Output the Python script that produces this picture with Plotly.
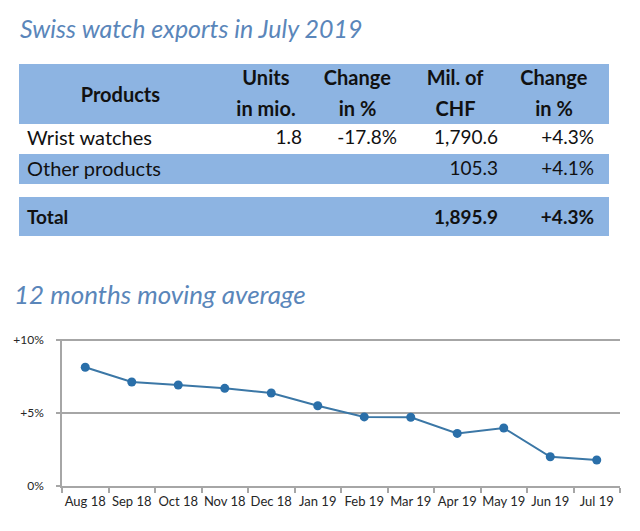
import plotly.graph_objects as go

# ---- Table data ----
header_line1 = ["Products", "Units", "Change", "Mil. of", "Change", ""]
header_line2 = ["", "in mio.", "in %", "CHF", "in %", ""]
products = ["Wrist watches", "Other products"]
units_mio = ["1.8", ""]
units_change = ["-17.8%", ""]
mil_chf = ["1,790.6", "105.3"]
chf_change = ["+4.3%", "+4.1%"]
total_label = "Total"
total_chf = "1,895.9"
total_change = "+4.3%"

# ---- Chart data ----
months = ["Aug 18", "Sep 18", "Oct 18", "Nov 18", "Dec 18", "Jan 19",
          "Feb 19", "Mar 19", "Apr 19", "May 19", "Jun 19", "Jul 19"]
moving_avg = [8.13, 7.12, 6.92, 6.69, 6.37, 5.50, 4.73, 4.71, 3.60, 3.97, 2.00, 1.78]
y_tickvals = [0, 5, 10]
y_ticktext = ["0%", "+5%", "+10%"]

W, H = 640, 531
BLUE = "#8db4e2"
CLEAR = "rgba(0,0,0,0)"
TITLE_BLUE = "#5a86ba"
FONT = "Lato"
TXT = "#111111"

def px(y):
    return 1 - y / H

def bold(t):
    return "<b>%s</b>" % t.replace(" ", "&nbsp;") if t else ""

colw = [203, 88, 95, 101, 96, 7]
XDOM = [19 / W, 609 / W]
ncol = len(colw)
DATA_ALIGN = ["left", "right", "right", "right", "right", "right"]

fig = go.Figure()

# background bands of the table (fills only)
fig.add_trace(go.Table(
    domain=dict(x=XDOM, y=[px(200), px(64)]),
    columnwidth=colw,
    header=dict(values=[""] * ncol, fill_color=BLUE, line=dict(width=0, color=BLUE),
                height=60, font=dict(family=FONT, size=19)),
    cells=dict(values=[["", ""]] * ncol, fill_color=[["white", BLUE]] * ncol,
               line=dict(width=0, color="white"), height=30,
               font=dict(family=FONT, size=19)),
))


def text_row(values, top, align, size, fill=CLEAR, height=30):
    """One table row (as a header row) whose text starts at pixel row `top`."""
    fig.add_trace(go.Table(
        domain=dict(x=XDOM, y=[px(top + height + 8), px(top)]),
        columnwidth=colw,
        header=dict(values=values, fill_color=fill,
                    line=dict(width=0, color=fill), align=align, height=height,
                    font=dict(family=FONT, size=size, color=TXT)),
        cells=dict(values=[[] for _ in range(ncol)], line=dict(width=0)),
    ))


# header lines (text top aligned in plotly tables, so rows start a bit higher)
text_row([""] + [bold(t) for t in header_line1[1:]], 57, "center", 20)
text_row([bold(t) for t in header_line2], 88, "center", 20)
text_row([bold(header_line1[0])] + [""] * (ncol - 1), 74, "center", 20)

# data rows
data_cols = [products, units_mio, units_change, mil_chf, chf_change, ["", ""]]
for i, top in enumerate([122, 153]):
    text_row([c[i] for c in data_cols], top, DATA_ALIGN, [20, 19, 19, 19, 19, 19])

# total row
text_row([bold(total_label), "", "", bold(total_chf), bold(total_change), ""],
         197, DATA_ALIGN, 19, fill=BLUE, height=32)

fig.add_trace(go.Scatter(
    x=months, y=moving_avg, mode="lines+markers",
    line=dict(color="#3b77a6", width=2),
    marker=dict(color="#2a6fa9", size=9),
    showlegend=False, hoverinfo="skip",
))

AX = "#a6a6a6"
Y_TOP = 10.1
fig.update_layout(
    width=W, height=H,
    margin=dict(l=0, r=0, t=0, b=0, pad=0, autoexpand=False),
    paper_bgcolor="white", plot_bgcolor="white",
    xaxis=dict(
        domain=[62 / W, 620 / W], type="category", range=[-0.5, len(months) - 0.5],
        showline=True, linecolor=AX, linewidth=1.5,
        ticks="outside", tickson="boundaries", ticklen=5, tickcolor=AX, tickwidth=1.5,
        showgrid=False, tickangle=0, automargin=False, ticklabelstandoff=3,
        tickfont=dict(family=FONT, size=13, color="#262626"),
    ),
    yaxis=dict(
        domain=[px(486), px(486 - 14.6 * Y_TOP)], range=[0, Y_TOP],
        tickvals=y_tickvals, ticktext=y_ticktext,
        showgrid=True, gridcolor=AX, gridwidth=1.5,
        showline=True, linecolor=AX, linewidth=1.5,
        ticks="outside", ticklen=4, tickcolor=AX, tickwidth=1.5,
        zeroline=False, automargin=False, ticklabelstandoff=10,
        tickfont=dict(family=FONT, size=12, color="#262626"),
    ),
    annotations=[
        dict(text="<i>Swiss watch exports in July 2019</i>", x=18 / W, y=px(28),
             xref="paper", yref="paper", xanchor="left", yanchor="middle",
             showarrow=False, font=dict(family=FONT, size=25, color=TITLE_BLUE)),
        dict(text="<i>12 months moving average</i>", x=12 / W, y=px(294),
             xref="paper", yref="paper", xanchor="left", yanchor="middle",
             showarrow=False, font=dict(family=FONT, size=26, color=TITLE_BLUE)),
    ],
)

fig.write_html("out.html", config={"displayModeBar": False},
               post_script="document.body.style.margin='0px';")
